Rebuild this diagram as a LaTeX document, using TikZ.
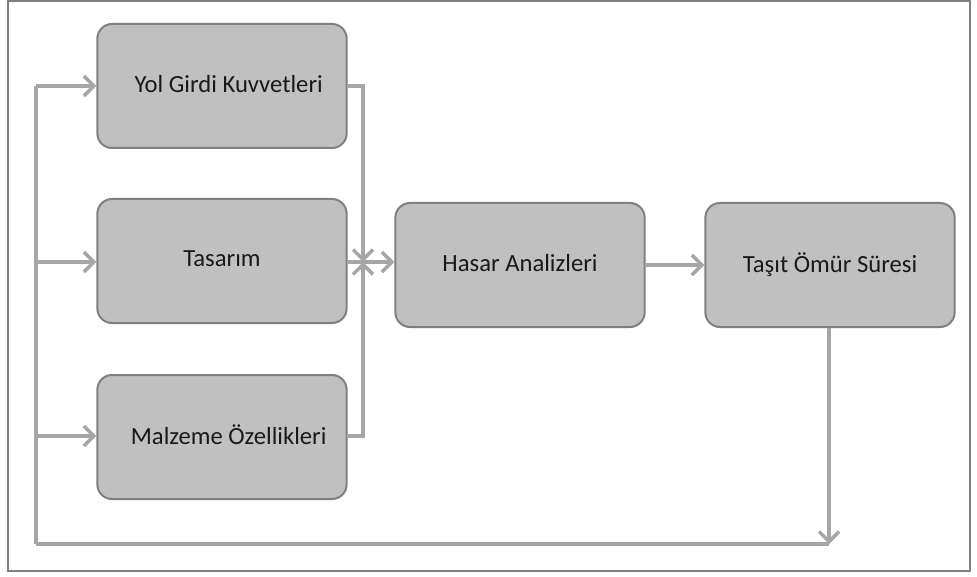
\documentclass[tikz,border=0pt]{standalone}
\usepackage{fontspec}
\setmainfont{Carlito}
\usetikzlibrary{arrows.meta}
\definecolor{boxfill}{RGB}{192,192,192}
\definecolor{boxline}{RGB}{128,128,128}
\definecolor{conn}{RGB}{166,166,166}
\begin{document}
\begin{tikzpicture}[x=0.75pt,y=-0.75pt,
  blk/.style={draw=boxline,line width=1.5pt,fill=boxfill,rounded corners=11pt,
    minimum width=187pt,minimum height=93pt,inner sep=0pt,font=\fontsize{18.5}{22}\selectfont,text=black!90},
  cn/.style={draw=conn,line width=3pt},
  ar/.style={cn,-{Straight Barb[length=7.5pt,width=15pt,line width=2.6pt]}}]
\useasboundingbox (0,0) rectangle (977,577);
\draw[boxline,line width=0.9pt] (8,1) rectangle (970,571);
\node[blk] (yol) at (222,86) {\raisebox{3pt}{\hspace{10pt}Yol Girdi Kuvvetleri}};
\node[blk] (tas) at (222,261) {\raisebox{3pt}{Tasarım}};
\node[blk] (mal) at (222,437) {\raisebox{3pt}{\hspace{10pt}Malzeme Özellikleri}};
\node[blk] (has) at (520,265) {\raisebox{3pt}{Hasar Analizleri}};
\node[blk] (tomr) at (830,265) {\raisebox{3pt}{Taşıt Ömür Süresi}};
\coordinate (bl) at (36,544);
\coordinate (br) at (829,544);
\coordinate (mrg) at (363,262);
% left bus
\draw[cn] (bl) -- (36,86);
\draw[ar] (36,86) -- (yol.west);
\draw[ar] (36,262) -- (tas.west |- 36,262);
\draw[ar] (36,436) -- (mal.west |- 36,436);
% right merges
\draw[ar] (yol.east |- 0,86) -- (363,86) -- (mrg);
\draw[ar] (mal.east |- 0,436) -- (363,436) -- (mrg);
\draw[ar] (tas.east |- 0,262) -- (has.west |- 0,262);
\draw[ar] (has.east) -- (tomr.west);
% feedback
\draw[cn] (bl) -- (br);
\draw[ar] (tomr.south -| br) -- (br);
\end{tikzpicture}
\end{document}
